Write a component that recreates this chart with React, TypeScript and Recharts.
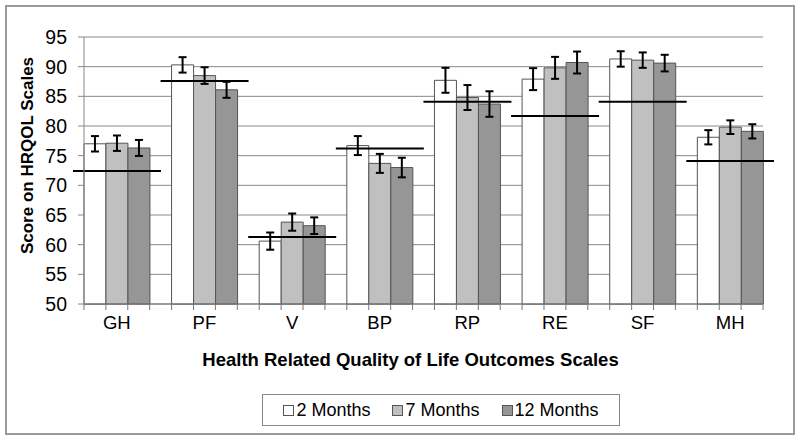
import { BarChart, Bar, XAxis, YAxis, CartesianGrid, Legend, ErrorBar } from 'recharts';

const scales = ['GH', 'PF', 'V', 'BP', 'RP', 'RE', 'SF', 'MH'];
const months2 = [77.0, 90.3, 60.6, 76.7, 87.7, 87.9, 91.3, 78.1];
const months7 = [77.1, 88.5, 63.8, 73.7, 84.8, 89.8, 91.1, 79.8];
const months12 = [76.3, 86.1, 63.2, 73.0, 83.7, 90.7, 90.6, 79.1];
const err2 = [1.3, 1.3, 1.45, 1.6, 2.1, 1.85, 1.3, 1.2];
const err7 = [1.3, 1.4, 1.45, 1.6, 2.1, 1.85, 1.3, 1.15];
const err12 = [1.35, 1.35, 1.4, 1.65, 2.15, 1.85, 1.4, 1.2];
const norms = [72.4, 87.6, 61.3, 76.2, 84.1, 81.7, 84.1, 74.1];
const yTicks = [50, 55, 60, 65, 70, 75, 80, 85, 90, 95];

const series = [
	{ key: 'm2', err: 'e2', name: '2 Months', fill: '#ffffff' },
	{ key: 'm7', err: 'e7', name: '7 Months', fill: '#c0c0c0' },
	{ key: 'm12', err: 'e12', name: '12 Months', fill: '#969696' }
];

const data = scales.map((s, i) => ({
	scale: s,
	m2: months2[i],
	m7: months7[i],
	m12: months12[i],
	e2: err2[i],
	e7: err7[i],
	e12: err12[i],
	norm: norms[i]
}));

const FONT = "'Liberation Sans', Arial, sans-serif";

// label plus the small tick marks at every bar edge
const CategoryTick = (props: any) => {
	const { x, y, payload } = props;
	const slot = payload.offset / 2;
	return (
		<g>
			{[-1.5, -0.5, 0.5, 1.5].map((k) => (
				<line key={k} x1={x + k * slot} x2={x + k * slot} y1={y - 12} y2={y - 6} stroke='#777' />
			))}
			<text x={x} y={y} dy='0.71em' textAnchor='middle' fontSize={18.5} fill='#000' fontFamily={FONT}>
				{payload.value}
			</text>
		</g>
	);
};

// norm line across the whole category band
const NormLine = (props: any) => {
	const { x, y, width } = props;
	const ext = width / 6;
	return <line x1={x - ext} x2={x + width + ext} y1={y} y2={y} stroke='#000' strokeWidth={2} />;
};

const LegendBox = () => (
	<div
		style={{
			boxSizing: 'border-box',
			height: 32,
			border: '1px solid #888',
			display: 'flex',
			alignItems: 'center',
			justifyContent: 'center',
			gap: 22,
			fontFamily: FONT,
			fontSize: 18,
			color: '#000'
		}}
	>
		{series.map((s) => (
			<span key={s.key} style={{ display: 'flex', alignItems: 'center' }}>
				<span
					style={{
						display: 'inline-block',
						width: 9,
						height: 9,
						border: '1px solid #555',
						background: s.fill,
						marginRight: 2
					}}
				/>
				{s.name}
			</span>
		))}
	</div>
);

const App = () => {
	return (
		<div style={{ position: 'absolute', left: 0, top: 0, width: 800, height: 440, background: '#fff' }}>
			<div
				style={{
					position: 'absolute',
					left: 5,
					top: 5,
					width: 786,
					height: 426,
					border: '2px solid #999',
					pointerEvents: 'none'
				}}
			/>
			<BarChart
				width={800}
				height={440}
				data={data}
				margin={{ top: 37, right: 37, bottom: 14, left: 0 }}
				barCategoryGap='12.5%'
				barGap={0}
				style={{ fontFamily: FONT }}
			>
				<CartesianGrid vertical={false} stroke='#888' />
				<XAxis
					dataKey='scale'
					height={90}
					padding={{ left: -11, right: -11 }}
					axisLine={{ stroke: '#777' }}
					tickLine={false}
					tickSize={6}
					tickMargin={6}
					interval={0}
					tick={<CategoryTick />}
					label={{
						content: (p: any) => (
							<text
								x={p.viewBox.x + p.viewBox.width / 2 - 13}
								y={p.viewBox.y + 62}
								textAnchor='middle'
								fontSize={18.5}
								fontWeight='bold'
								fill='#000'
								fontFamily={FONT}
							>
								Health Related Quality of Life Outcomes Scales
							</text>
						)
					}}
				/>
				<XAxis
					xAxisId='norm'
					dataKey='scale'
					hide
					padding={{ left: -11, right: -11 }}
					allowDataOverflow
				/>
				<YAxis
					width={84}
					domain={[50, 95]}
					ticks={yTicks}
					interval={0}
					axisLine={{ stroke: '#888' }}
					tickLine={{ stroke: '#888' }}
					tickSize={6}
					tickMargin={11}
					tick={{ fontSize: 19.5, fill: '#000', fontFamily: FONT }}
					label={{
						content: (p: any) => {
							const cx = p.viewBox.x + 27;
							const cy = p.viewBox.y + p.viewBox.height / 2 - 15;
							return (
								<text
									x={cx}
									y={cy}
									transform={`rotate(-90 ${cx} ${cy})`}
									textAnchor='middle'
									dominantBaseline='central'
									fontSize={17}
									fontWeight='bold'
									fill='#000'
									fontFamily={FONT}
								>
									Score on HRQOL Scales
								</text>
							);
						}
					}}
				/>
				{series.map((s) => (
					<Bar
						key={s.key}
						dataKey={s.key}
						name={s.name}
						fill={s.fill}
						stroke='#555'
						strokeWidth={1}
						isAnimationActive={false}
					>
						<ErrorBar dataKey={s.err} width={4} stroke='#000' strokeWidth={2} direction='y' />
					</Bar>
				))}
				<Bar
					dataKey='norm'
					xAxisId='norm'
					legendType='none'
					fill='none'
					shape={<NormLine />}
					isAnimationActive={false}
				/>
				<Legend
					verticalAlign='bottom'
					content={<LegendBox />}
					wrapperStyle={{ left: 262, width: 358, height: 32, bottom: 14 }}
				/>
			</BarChart>
		</div>
	);
};

export default App;
